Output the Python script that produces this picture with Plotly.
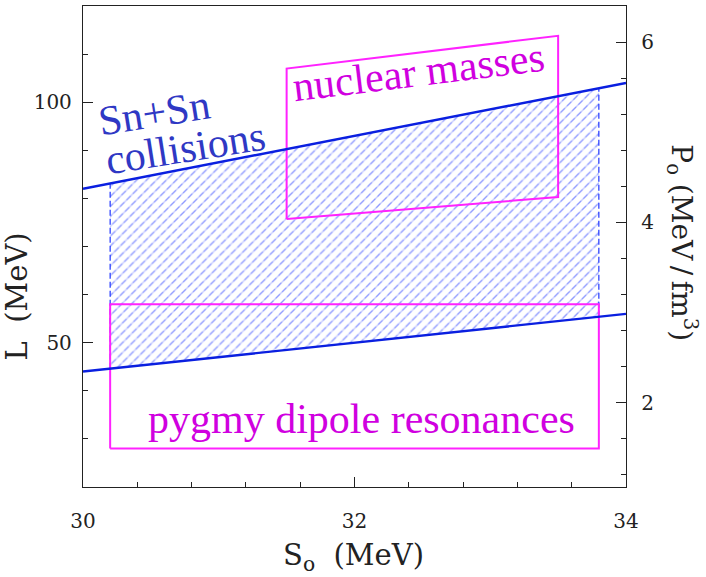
import plotly.graph_objects as go

# ---- data ----
S_line = [30.0, 34.0]            # S0 (MeV) endpoints of the Sn+Sn bounds
L_upper = [82.0, 104.0]          # upper bound L (MeV)
L_lower = [44.0, 56.0]           # lower bound L (MeV)

hatch_S = [30.2, 33.8]           # extent of hatched Sn+Sn region
hatch_upper = [83.1, 102.9]
hatch_lower = [44.6, 55.4]

pygmy_S = [30.2, 33.8]
pygmy_L = [28.0, 58.0]

masses_S = [31.5, 33.5, 33.5, 31.5]
masses_L = [75.7, 80.3, 113.8, 107.0]

x_ticks = [30, 32, 34]
L_ticks = [50, 100]
P_ticks = [2, 4, 6]
L_range = [20, 120]
rho0 = 0.16   # fm^-3, P0 = rho0 * L / 3
P_range = [L_range[0] * rho0 / 3, L_range[1] * rho0 / 3]

BLUE = "#0a1fe0"
HATCH = "#1f35ff"
MAG = "#ff22ff"
MAGTXT = "#d000e0"
TXTBLUE = "#2f38c4"
TICKFONT = dict(family="DejaVu Serif", size=20, color="#222")
TITLEFONT = dict(family="DejaVu Serif", size=29, color="#222")
ANNFONT = "Liberation Serif"

fig = go.Figure()

# hatched region: blue "/" pattern
poly_x = [hatch_S[0], hatch_S[1], hatch_S[1], hatch_S[0], hatch_S[0]]
poly_y = [hatch_lower[0], hatch_lower[1], hatch_upper[1], hatch_upper[0], hatch_lower[0]]
fig.add_trace(go.Scatter(
    x=poly_x, y=poly_y, mode="lines", line=dict(width=0), fill="toself",
    fillcolor="rgba(0,0,0,0)",
    fillpattern=dict(shape="/", fgcolor=HATCH, bgcolor="rgba(255,255,255,0)",
                     size=7, solidity=0.2),
    hoverinfo="skip", showlegend=False))
# white "\" pattern breaks the hatch into dashes
fig.add_trace(go.Scatter(
    x=poly_x, y=poly_y, mode="lines", line=dict(width=0), fill="toself",
    fillcolor="rgba(0,0,0,0)",
    fillpattern=dict(shape="\\", fgcolor="white", bgcolor="rgba(255,255,255,0)",
                     size=9, solidity=0.35),
    hoverinfo="skip", showlegend=False))
# dashed vertical edges of the hatched region
for i in range(2):
    fig.add_trace(go.Scatter(
        x=[hatch_S[i], hatch_S[i]], y=[hatch_lower[i], hatch_upper[i]],
        mode="lines", line=dict(color=HATCH, width=1.2, dash="6px,3px"),
        hoverinfo="skip", showlegend=False))

# pygmy dipole resonances box
fig.add_trace(go.Scatter(
    x=[pygmy_S[0], pygmy_S[1], pygmy_S[1], pygmy_S[0], pygmy_S[0]],
    y=[pygmy_L[0], pygmy_L[0], pygmy_L[1], pygmy_L[1], pygmy_L[0]],
    mode="lines", line=dict(color=MAG, width=2), hoverinfo="skip", showlegend=False))

# nuclear masses box
fig.add_trace(go.Scatter(
    x=masses_S + [masses_S[0]], y=masses_L + [masses_L[0]],
    mode="lines", line=dict(color=MAG, width=2), hoverinfo="skip", showlegend=False))

# Sn+Sn bounds
fig.add_trace(go.Scatter(x=S_line, y=L_upper, mode="lines",
                         line=dict(color=BLUE, width=2.4), hoverinfo="skip", showlegend=False))
fig.add_trace(go.Scatter(x=S_line, y=L_lower, mode="lines",
                         line=dict(color=BLUE, width=2.4), hoverinfo="skip", showlegend=False))

# secondary axis carrier
fig.add_trace(go.Scatter(x=[None], y=[None], yaxis="y2", showlegend=False, hoverinfo="skip"))

anns = [
    dict(x=30.522, y=97.8, text="Sn+Sn", textangle=-9,
         font=dict(family=ANNFONT, size=42, color=TXTBLUE)),
    dict(x=30.756, y=90.46, text="collisions", textangle=-9,
         font=dict(family=ANNFONT, size=42, color=TXTBLUE)),
    dict(x=32.47, y=106.35, text="nuclear masses", textangle=-7,
         font=dict(family=ANNFONT, size=42, color=MAGTXT)),
    dict(x=32.05, y=34.2, text="pygmy dipole resonances",
         font=dict(family=ANNFONT, size=42, color=MAGTXT)),
]
for a in anns:
    a.update(xref="x", yref="y", showarrow=False, xanchor="center", yanchor="middle")

# axis titles
anns += [
    dict(xref="paper", yref="paper", x=(354 - 83) / 543.5, y=(487.5 - 558) / 481.5,
         text="S<sub>o</sub>&nbsp;&nbsp;(MeV)", showarrow=False,
         xanchor="center", yanchor="middle", font=TITLEFONT),
    dict(xref="paper", yref="paper", x=(17 - 83) / 543.5, y=(487.5 - 296.7) / 481.5,
         text="L&nbsp;&nbsp;(MeV)", textangle=-90, showarrow=False,
         xanchor="center", yanchor="middle", font=TITLEFONT),
    dict(xref="paper", yref="paper", x=(682 - 83) / 543.5, y=(487.5 - 243) / 481.5,
         text="P<sub>o</sub>&nbsp;(MeV\u2009/\u2009fm<sup>3</sup>)", textangle=90,
         showarrow=False, xanchor="center", yanchor="middle",
         font=dict(family="DejaVu Serif", size=28, color="#222")),
]

axis_common = dict(showgrid=False, zeroline=False, ticks="inside", ticklen=10,
                   tickwidth=1, tickcolor="#222", linecolor="#222", linewidth=1.3,
                   tickfont=TICKFONT)

fig.update_layout(
    width=706, height=577,
    margin=dict(l=83, r=79.5, t=6, b=89.5),
    paper_bgcolor="white", plot_bgcolor="white",
    showlegend=False,
    annotations=anns,
    xaxis=dict(range=[30, 34], tickvals=x_ticks, showline=True, mirror=True,
               ticklabelstandoff=16,
               minor=dict(dtick=0.4, tick0=30, ticks="inside", ticklen=5, tickcolor="#222"),
               **axis_common),
    yaxis=dict(range=L_range, tickvals=L_ticks, showline=True, mirror=True,
               ticklabelstandoff=6,
               minor=dict(dtick=10, tick0=0, ticks="inside", ticklen=5, tickcolor="#222"),
               **axis_common),
    yaxis2=dict(range=P_range, tickvals=P_ticks, overlaying="y", side="right",
                showline=True, ticklabelstandoff=10,
                minor=dict(dtick=0.4, tick0=0, ticks="inside", ticklen=5, tickcolor="#222"),
                **axis_common),
)

fig.write_html("out.html", config={"displayModeBar": False},
               post_script="document.body.style.margin='0';document.body.style.overflow='hidden';")
